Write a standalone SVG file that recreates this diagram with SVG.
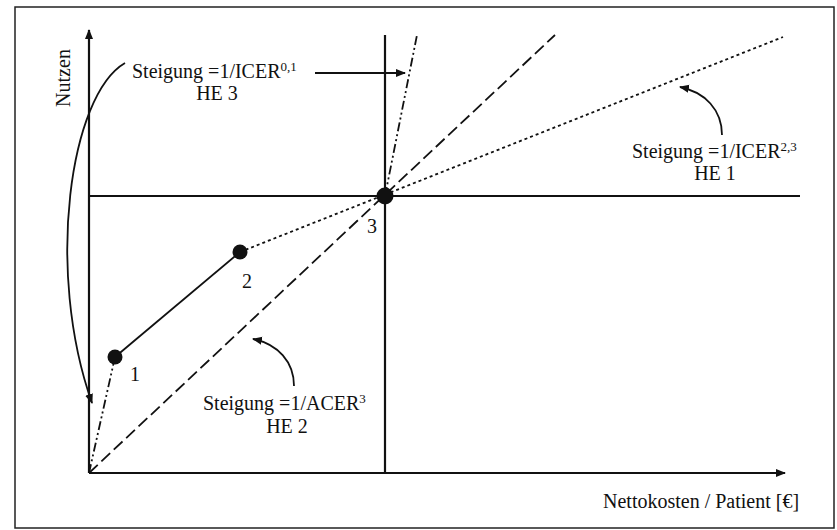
<svg xmlns="http://www.w3.org/2000/svg" width="837" height="530" viewBox="0 0 837 530">
<style>
text{font-family:"Liberation Serif","Times New Roman",serif;font-size:20px;fill:#111}
.sup{font-size:13px}
.ax{stroke:#111;stroke-width:2.2;fill:none}
.ln{stroke:#111;stroke-width:1.8;fill:none}
.dash{stroke-dasharray:12,5}
.dot{stroke-dasharray:3,3}
.dd{stroke-dasharray:9,3,2,3,2,3}
.pt{fill:#111}
</style>
<defs>
<marker id="ah" viewBox="0 0 10 10" refX="9" refY="5" markerWidth="10" markerHeight="10" markerUnits="userSpaceOnUse" orient="auto">
<path d="M0,1 L10,5 L0,9 Z" fill="#111"/>
</marker>
</defs>
<rect x="15" y="7" width="819" height="521" fill="#fff" stroke="#222" stroke-width="1.5"/>
<g id="axes">
<line class="ax" x1="89" y1="473" x2="89" y2="30" marker-end="url(#ah)"/>
<line class="ax" x1="89" y1="473" x2="785" y2="473" marker-end="url(#ah)"/>
<line class="ax" x1="385" y1="35" x2="385" y2="473"/>
<line class="ax" x1="89" y1="196" x2="800" y2="196"/>
</g>
<g id="connectors">
<line class="ln" x1="115" y1="357" x2="240" y2="252"/>
<line class="ln dot" x1="240" y1="252" x2="783" y2="37"/>
<line class="ln dash" x1="89" y1="473" x2="555" y2="35"/>
<line class="ln dd" x1="89" y1="473" x2="115" y2="357"/>
<line class="ln dd" x1="385" y1="196" x2="417" y2="35"/>
<line class="ln" x1="315" y1="73" x2="405" y2="73" marker-end="url(#ah)"/>
<path class="ln" d="M125,63 C70,95 45,270 92,403" marker-end="url(#ah)"/>
<path class="ln" d="M722,135 C722,110 705,92 680,87" marker-end="url(#ah)"/>
<path class="ln" d="M294,386 C294,362 278,344 253,339" marker-end="url(#ah)"/>
</g>
<g id="p1"><circle class="pt" cx="115" cy="357" r="7.5"/><text x="135" y="381" text-anchor="middle">1</text></g>
<g id="p2"><circle class="pt" cx="240" cy="252" r="7.5"/><text x="247" y="288" text-anchor="middle">2</text></g>
<g id="p3"><circle class="pt" cx="385" cy="196" r="8.5"/><text x="372" y="233" text-anchor="middle">3</text></g>
<g id="label-he3"><text x="132" y="78">Steigung =1/ICER<tspan class="sup" dy="-7">0,1</tspan></text><text x="217" y="100" text-anchor="middle">HE 3</text></g>
<g id="label-he1"><text x="632" y="158">Steigung =1/ICER<tspan class="sup" dy="-7">2,3</tspan></text><text x="715" y="180" text-anchor="middle">HE 1</text></g>
<g id="label-he2"><text x="203" y="410">Steigung =1/ACER<tspan class="sup" dy="-7">3</tspan></text><text x="287" y="433" text-anchor="middle">HE 2</text></g>
<g id="axis-labels">
<text transform="translate(70,78) rotate(-90)" text-anchor="middle">Nutzen</text>
<text x="603" y="508">Nettokosten / Patient [€]</text>
</g>
</svg>
